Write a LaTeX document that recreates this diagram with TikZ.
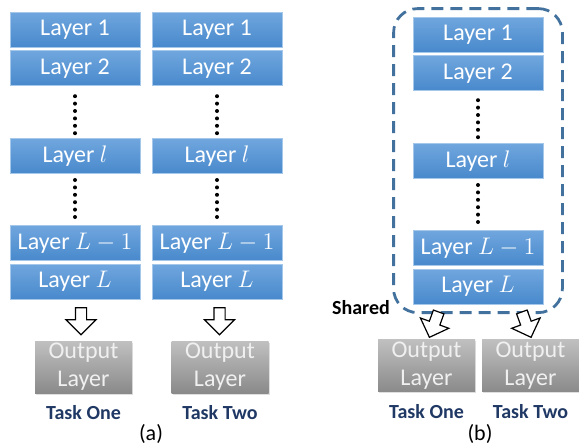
\documentclass[tikz,border=0pt]{standalone}
\usepackage{fontspec}
\setmainfont{Carlito}
\usetikzlibrary{positioning,shapes.arrows,fit,shadows}

\definecolor{layertop}{RGB}{112,166,222}
\definecolor{layerbot}{RGB}{72,137,204}
\definecolor{layeredge}{RGB}{165,199,234}
\definecolor{outtop}{RGB}{192,192,192}
\definecolor{outbot}{RGB}{138,138,138}
\definecolor{taskblue}{RGB}{31,56,100}
\definecolor{sharedline}{RGB}{65,113,156}

\begin{document}
\begin{tikzpicture}[
    x=1pt, y=1pt, node distance=1.5pt,
    layer/.style={draw=layeredge, line width=0.4pt,
                  top color=layertop, bottom color=layerbot,
                  text=white, font=\fontsize{12}{14}\selectfont,
                  minimum width=65pt, minimum height=17.5pt, inner sep=0pt},
    outlayer/.style={top color=outtop, bottom color=outbot,
                     text=white!94!black, align=center,
                     font=\fontsize{12}{14}\selectfont,
                     minimum width=48.5pt, minimum height=26pt, inner sep=0pt,
                     drop shadow={opacity=0.25, shadow xshift=0.6pt, shadow yshift=-0.8pt}},
    task/.style={font=\fontsize{10}{12}\selectfont\bfseries, text=taskblue, inner sep=1pt},
    vdots/.style={line width=2pt, line cap=round, dash pattern=on 0pt off 3.7pt},
    hollow/.style={single arrow, draw=black, fill=white, line width=0.6pt,
                   minimum height=13.5pt, inner xsep=0pt, inner ysep=2.5pt,
                   single arrow head extend=4.75pt},
    sharedbox/.style={draw=sharedline, line width=1.4pt,
                      dash pattern=on 6pt off 3.5pt, rounded corners=12pt}
  ]
  \useasboundingbox (0,0) rectangle (289.5,-223);

  % (a) task one
  \node[layer] (ao1) at (37.5,-14.75) {Layer 1};
  \node[layer, below=of ao1] (ao2) {Layer 2};
  \node[layer, below=26pt of ao2] (aol) {Layer $l$};
  \node[layer, below=25.5pt of aol] (aoLm) {Layer $L-1$};
  \node[layer, below=of aoLm] (aoL) {Layer $L$};
  \draw[vdots] ([yshift=-5pt]ao2.south) -- ([yshift=2.3pt]aol.north);
  \draw[vdots] ([yshift=-3pt]aol.south) -- ([yshift=3pt]aoLm.north);

  % (a) task two
  \node[layer] (at1) at (108.5,-14.75) {Layer 1};
  \node[layer, below=of at1] (at2) {Layer 2};
  \node[layer, below=26pt of at2] (atl) {Layer $l$};
  \node[layer, below=25.5pt of atl] (atLm) {Layer $L-1$};
  \node[layer, below=of atLm] (atL) {Layer $L$};
  \draw[vdots] ([yshift=-5pt]at2.south) -- ([yshift=2.3pt]atl.north);
  \draw[vdots] ([yshift=-3pt]atl.south) -- ([yshift=3pt]atLm.north);

  \node[hollow, rotate=-90] (ha1) at (40.5,-159.25) {};
  \node[hollow, rotate=-90] (ha2) at (109.75,-159.25) {};
  \node[outlayer] (oa1) at (41.75,-183.5) {Output\\Layer};
  \node[outlayer] (oa2) at (110,-183.5) {Output\\Layer};
  \node[task, below=5pt of oa1] (ta1) {Task One};
  \node[task, below=5pt of oa2] (ta2) {Task Two};
  \node[font=\fontsize{11}{13}\selectfont, inner sep=1pt] (capa) at (75.5,-217) {(a)};

  % (b) shared layers
  \node[layer] (b1) at (239,-17.25) {Layer 1};
  \node[layer, below=of b1] (b2) {Layer 2};
  \node[layer, below=26pt of b2] (bl) {Layer $l$};
  \node[layer, below=25.5pt of bl] (bLm) {Layer $L-1$};
  \node[layer, below=of bLm] (bL) {Layer $L$};
  \draw[vdots] ([yshift=-4.5pt]b2.south) -- ([yshift=2.6pt]bl.north);
  \draw[vdots] ([yshift=-3pt]bl.south) -- ([yshift=3pt]bLm.north);

  \node[sharedbox, fit=(b1)(bL), inner xsep=9.5pt, inner ysep=4pt] (shared) {};
  \node[font=\fontsize{10}{12}\selectfont\bfseries, inner sep=1pt, anchor=east]
    (sharedlbl) at ([yshift=3pt]shared.south west) {Shared};

  \node[hollow, rotate=-110] (hb1) at (217.5,-161) {};
  \node[hollow, rotate=-70] (hb2) at (262.75,-161) {};
  \node[outlayer] (ob1) at (213.25,-182.75) {Output\\Layer};
  \node[outlayer] (ob2) at (265.25,-182.75) {Output\\Layer};
  \node[task, below=5pt of ob1] (tb1) {Task One};
  \node[task, below=5pt of ob2] (tb2) {Task Two};
  \node[font=\fontsize{11}{13}\selectfont, inner sep=1pt] (capb) at (240,-217) {(b)};
\end{tikzpicture}
\end{document}
